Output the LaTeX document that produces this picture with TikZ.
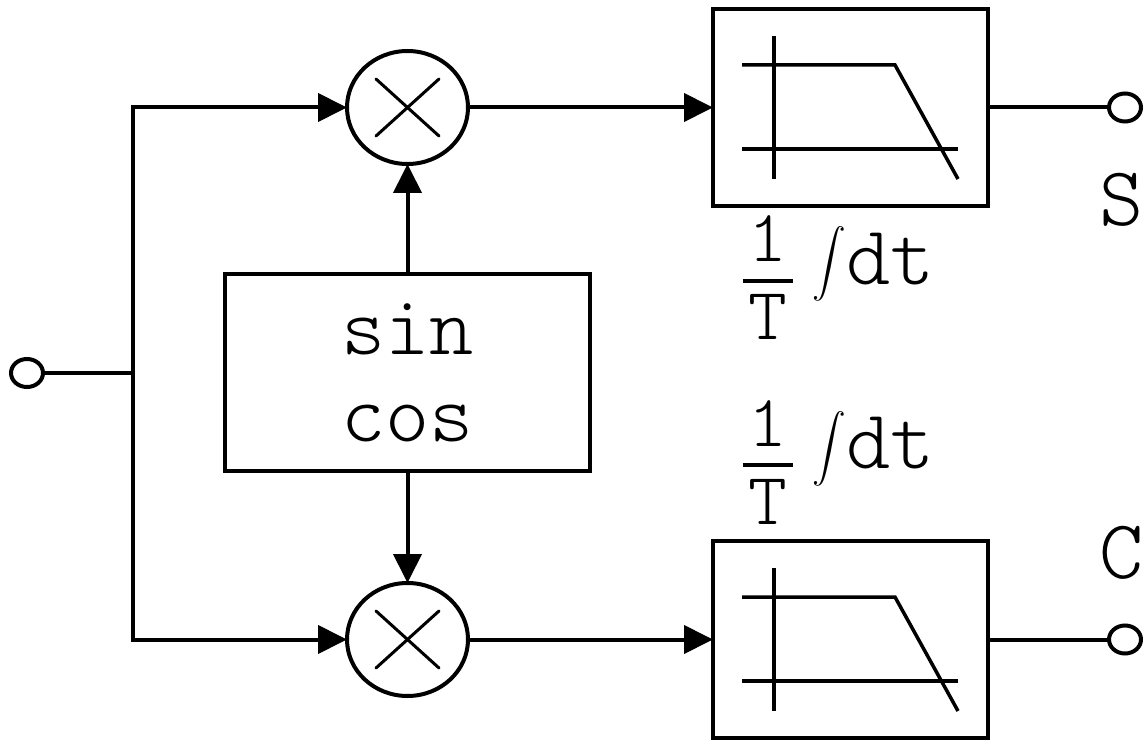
\documentclass[tikz,border=0pt]{standalone}
\usepackage{amsmath}
\usetikzlibrary{positioning, arrows.meta, shapes.geometric, calc}

\newcommand{\bigfont}{\fontsize{47.8}{49.5}\ttfamily\fontseries{l}\selectfont}
\newcommand{\smallfont}{\fontsize{42}{44}\ttfamily\fontseries{l}\selectfont}
\newcommand{\ratetext}{\raisebox{-0.14cm}{$\genfrac{}{}{0.08cm}{0}{\hbox to 1cm{\hss\smallfont 1\hss}}{\hbox to 1cm{\hss\smallfont T\hss}}$}\kern0.36cm\raisebox{0.24cm}{\scalebox{0.77}{$\displaystyle\int$}}dt}
\newcommand{\lowpass}[1]{
	\draw[thinline] ($(#1.center)+(-2.17,0.85)$) -- ($(#1.center)+(0.89,0.85)$) -- ($(#1.center)+(2.15,-1.43)$);
	\draw[thinline] ($(#1.center)+(-2.17,-0.83)$) -- ($(#1.center)+(2.15,-0.83)$);
	\draw[thinline] ($(#1.center)+(-1.53,1.43)$) -- ($(#1.center)+(-1.53,-1.43)$);
}

\tikzset{
	every node/.style={outer sep=0pt, inner sep=0pt, font=\bigfont},
	wire/.style={line width=0.08cm},
	flow/.style={wire, -{Triangle[length=0.58cm, width=0.56cm]}},
	thinline/.style={line width=0.07cm},
	mixer/.style={draw, wire, ellipse, minimum width=2.42cm, minimum height=2.26cm},
	crossline/.style={line width=0.06cm, line cap=round},
	block/.style={draw, wire, rectangle, minimum width=5.5cm, minimum height=3.94cm},
	oscbox/.style={draw, wire, rectangle, minimum width=7.3cm, minimum height=3.94cm, align=center},
	terminal/.style={draw, wire, ellipse, minimum width=0.64cm, minimum height=0.56cm},
}

\begin{document}
\begin{tikzpicture}
	\useasboundingbox (0,0) rectangle (22.94,-14.84);

	\node[terminal] (in) at (0.54,-7.46) {};
	\coordinate (fork) at (2.66,-7.46);
	\node[oscbox] (osc) at (8.15,-7.45) {sin\\cos};
	\node[mixer, above=2.2cm of osc] (mixA) {};
	\node[mixer, below=2.24cm of osc] (mixB) {};
	\node[block, right=4.9cm of mixA] (lpfA) {};
	\node[block, right=4.9cm of mixB] (lpfB) {};
	\node[terminal, right=2.42cm of lpfA] (outS) {};
	\node[terminal, right=2.42cm of lpfB] (outC) {};
	\node[below=1.04cm of outS, xshift=-0.06cm] (labelS) {S};
	\node[above=0.92cm of outC, xshift=-0.06cm] (labelC) {C};
	\node[below=0.2cm of lpfA, xshift=-0.26cm] (rateA) {\ratetext};
	\node[above=0.34cm of lpfB, xshift=-0.26cm] (rateB) {\ratetext};

	\draw[wire] (in) -- (fork);
	\draw[flow] (fork) |- (mixA);
	\draw[flow] (fork) |- (mixB);
	\draw[flow] (osc) -- (mixA);
	\draw[flow] (osc) -- (mixB);
	\draw[flow] (mixA) -- (lpfA);
	\draw[flow] (mixB) -- (lpfB);
	\draw[wire] (lpfA) -- (outS);
	\draw[wire] (lpfB) -- (outC);

	\draw[crossline] ($(mixA)+(-0.63,0.57)$) -- ($(mixA)+(0.63,-0.57)$);
	\draw[crossline] ($(mixA)+(-0.63,-0.57)$) -- ($(mixA)+(0.63,0.57)$);
	\draw[crossline] ($(mixB)+(-0.63,0.57)$) -- ($(mixB)+(0.63,-0.57)$);
	\draw[crossline] ($(mixB)+(-0.63,-0.57)$) -- ($(mixB)+(0.63,0.57)$);

	\lowpass{lpfA}
	\lowpass{lpfB}
\end{tikzpicture}
\end{document}
